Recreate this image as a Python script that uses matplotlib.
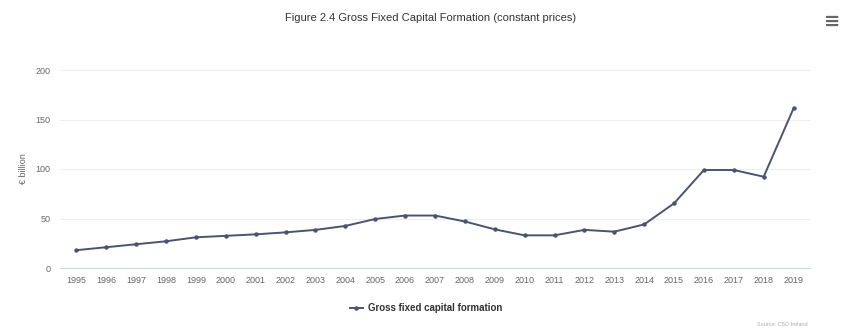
import matplotlib.pyplot as plt

years = list(range(1995, 2020))
gfcf = [18, 21, 24, 27, 31, 32.5, 34, 36, 38.5, 42.5, 49.5, 53, 53, 47, 39,
        33, 33, 38.5, 36.7, 44, 65.3, 99, 99, 92.2, 161.3]
yticks = [0, 50, 100, 150, 200]

plt.rcParams['font.family'] = ['Liberation Sans', 'DejaVu Sans']

fig = plt.figure(figsize=(8.61, 3.29), dpi=100)
ax = fig.add_axes([60 / 861, 1 - 268 / 329, 750 / 861, 198 / 329])

line_color = '#4a5470'
ax.plot(years, gfcf, color=line_color, lw=1.4, marker='o', ms=2.2,
        label='Gross fixed capital formation')

ax.set_ylim(0, 200)
ax.set_xlim(1994.45, 2019.55)
ax.set_yticks(yticks)
ax.set_xticks(years)
ax.set_xticklabels([str(y) for y in years])
ax.grid(axis='y', color='#eeeeee', lw=0.8)
ax.set_axisbelow(True)
for s in ['top', 'right', 'left']:
    ax.spines[s].set_visible(False)
ax.spines['bottom'].set_color('#ccd6eb')
ax.spines['bottom'].set_linewidth(0.8)
ax.tick_params(axis='both', length=0, labelsize=6.5, labelcolor='#666666')
ax.tick_params(axis='x', pad=6)
ax.tick_params(axis='y', pad=7)

ax.set_ylabel('€ billion', fontsize=6.5, color='#666666', labelpad=5)

fig.text(0.5, 1 - 18 / 329, 'Figure 2.4 Gross Fixed Capital Formation (constant prices)',
         ha='center', va='center', fontsize=8, color='#333333')
fig.text(832 / 861, 1 - 21 / 329, '≡', ha='center', va='center', fontsize=14,
         color='#666666', family='DejaVu Sans', fontweight='bold')

leg = fig.legend(loc='center', bbox_to_anchor=(426 / 861, 1 - 308 / 329), frameon=False,
                 fontsize=7, handlelength=1.3, handletextpad=0.5)
for t in leg.get_texts():
    t.set_color('#333333')
    t.set_fontweight('bold')

fig.text(808 / 861, 1 - 325 / 329, 'Source: CSO Ireland', ha='right', va='center',
         fontsize=4, color='#aaaaaa')

fig.savefig('out.png', dpi=100)
